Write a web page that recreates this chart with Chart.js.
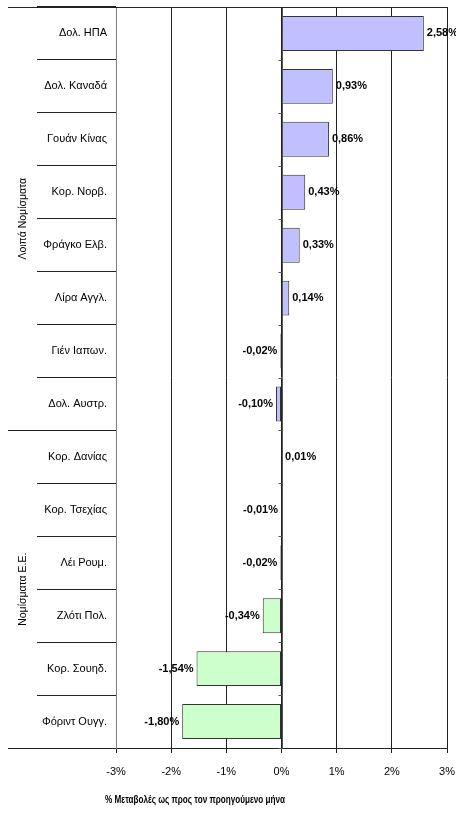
<!DOCTYPE html>
<html>
<head>
<meta charset="utf-8">
<script src="https://cdn.jsdelivr.net/npm/chart.js@4.4.0/dist/chart.umd.min.js"></script>
<style>
html,body{margin:0;padding:0;background:#fff;}
#wrap{position:relative;width:456px;height:814px;}
</style>
</head>
<body>
<div id="wrap"><canvas id="c"></canvas></div>
<script>
const categories = ["Δολ. ΗΠΑ","Δολ. Καναδά","Γουάν Κίνας","Κορ. Νορβ.","Φράγκο Ελβ.","Λίρα Αγγλ.","Γιέν Ιαπων.","Δολ. Αυστρ.","Κορ. Δανίας","Κορ. Τσεχίας","Λέι Ρουμ.","Ζλότι Πολ.","Κορ. Σουηδ.","Φόριντ Ουγγ."];
const changes = [2.58,0.93,0.86,0.43,0.33,0.14,-0.02,-0.10,0.01,-0.01,-0.02,-0.34,-1.54,-1.80];
const groupNames = ["Λοιπά Νομίσματα","Νομίσματα Ε.Ε."];
const groupSizes = [8,6];
const xTicks = [-3,-2,-1,0,1,2,3];
const axisTitle = "% Μεταβολές ως προς τον προηγούμενο μήνα";

const groupColors = ["#C0C0FF","#CCFFCC"];
const barColors = categories.map((c,i)=> i < groupSizes[0] ? groupColors[0] : groupColors[1]);
const fmt = v => v.toFixed(2).replace('.',',') + '%';

const extras = {
  id:'extras',
  afterDatasetsDraw(chart){
    const ctx = chart.ctx, ca = chart.chartArea;
    const xs = chart.scales.x;
    const n = categories.length;
    const step = (ca.bottom - ca.top)/n;
    ctx.save();
    const x0 = Math.round(xs.getPixelForValue(0)) + 0.5;
    ctx.strokeStyle = '#555'; ctx.lineWidth = 1;
    ctx.beginPath(); ctx.moveTo(x0, ca.top); ctx.lineTo(x0, ca.bottom); ctx.stroke();
    for (let i=0;i<=n;i++){
      const y = Math.round(ca.top + i*step) + 0.5;
      ctx.beginPath(); ctx.moveTo(x0-4, y); ctx.lineTo(x0, y); ctx.stroke();
    }
    ctx.strokeStyle = '#222';
    const lx = 8;
    ctx.beginPath(); ctx.moveTo(lx, Math.round(ca.top)+0.5); ctx.lineTo(ca.right, Math.round(ca.top)+0.5); ctx.stroke();
    ctx.beginPath(); ctx.moveTo(lx, Math.round(ca.bottom)+0.5); ctx.lineTo(ca.left, Math.round(ca.bottom)+0.5); ctx.stroke();
    let acc = 0;
    ctx.fillStyle = '#000';
    ctx.font = '10.5px "Liberation Sans", Arial, sans-serif';
    ctx.textAlign = 'center'; ctx.textBaseline = 'middle';
    groupSizes.forEach((g,gi)=>{
      const yTop = ca.top + acc*step;
      acc += g;
      const yBot = ca.top + acc*step;
      const yy = Math.round(yBot)+0.5;
      ctx.beginPath(); ctx.moveTo(lx, yy); ctx.lineTo(ca.left, yy); ctx.stroke();
      ctx.save();
      ctx.translate(23, (yTop+yBot)/2);
      ctx.rotate(-Math.PI/2);
      ctx.fillText(groupNames[gi], 0, 0);
      ctx.restore();
    });
    ctx.font = 'bold 11px "Liberation Sans", Arial, sans-serif';
    ctx.textBaseline = 'middle';
    const meta = chart.getDatasetMeta(0);
    meta.data.forEach((bar,i)=>{
      const v = changes[i];
      const xe = xs.getPixelForValue(v);
      if (v >= 0){ ctx.textAlign='left'; ctx.fillText(fmt(v), xe+3, bar.y); }
      else { ctx.textAlign='right'; ctx.fillText(fmt(v), xe-3, bar.y); }
    });
    ctx.font = 'bold 10px "Liberation Sans", Arial, sans-serif';
    ctx.textAlign = 'left';
    const w = ctx.measureText(axisTitle).width;
    const sx = 180 / w;
    ctx.save();
    ctx.translate(105, 800);
    ctx.scale(sx, 1);
    ctx.fillText(axisTitle, 0, 0);
    ctx.restore();
    ctx.restore();
  }
};

new Chart(document.getElementById('c'), {
  type:'bar',
  data:{
    labels: categories,
    datasets:[{
      data: changes,
      backgroundColor: barColors,
      borderColor: '#333',
      borderWidth: 1,
      borderSkipped: false,
      categoryPercentage: 1,
      barPercentage: 0.66
    }]
  },
  options:{
    indexAxis:'y',
    responsive:true,
    maintainAspectRatio:false,
    animation:false,
    layout:{padding:{top:7,right:9,bottom:0,left:0}},
    plugins:{legend:{display:false},tooltip:{enabled:false}},
    scales:{
      x:{
        min:-3,max:3,
        afterBuildTicks: s => { s.ticks = xTicks.map(v=>({value:v})); },
        afterFit: s => { s.height = 66; s.paddingLeft = 0; s.paddingRight = 0; },
        ticks:{
          callback: v => v + '%',
          color:'#000',
          padding:12,
          font:{family:'"Liberation Sans", Arial, sans-serif', size:11}
        },
        grid:{color:'#222', tickLength:5, drawTicks:true},
        border:{color:'#222'}
      },
      y:{
        afterFit: s => { s.width = 116; s.paddingTop = 0; s.paddingBottom = 0; },
        ticks:{
          color:'#000',
          padding:-70,
          font:{family:'"Liberation Sans", Arial, sans-serif', size:11}
        },
        grid:{drawOnChartArea:false, tickLength:79, color:'#222', offset:true},
        border:{color:'#808080'}
      }
    }
  },
  plugins:[extras]
});
</script>
</body>
</html>
